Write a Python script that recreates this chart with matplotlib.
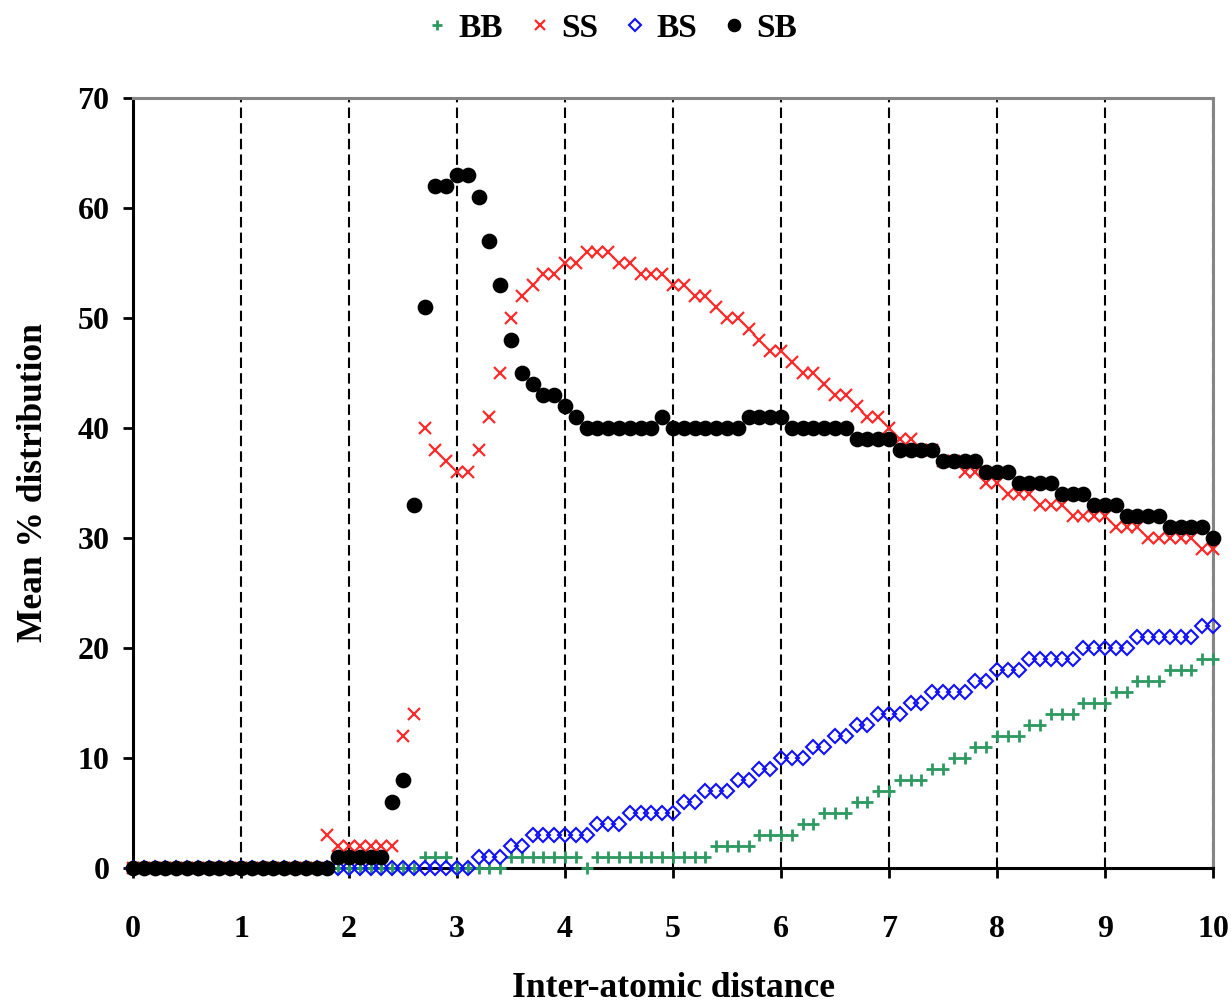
import numpy as np
import matplotlib.pyplot as plt

plt.rcParams['font.family'] = ['Liberation Serif', 'DejaVu Serif']
plt.rcParams['font.weight'] = 'bold'

# inter-atomic distance grid, 0.0 .. 10.0 in steps of 0.1
distance = np.linspace(0, 10, 101)

# mean % distribution per pair type
bb = [0, 0, 0, 0, 0, 0, 0, 0, 0, 0,
      0, 0, 0, 0, 0, 0, 0, 0, 0, 0,
      0, 0, 0, 0, 0, 0, 0, 1, 1, 1,
      0, 0, 0, 0, 0, 1, 1, 1, 1, 1,
      1, 1, 0, 1, 1, 1, 1, 1, 1, 1,
      1, 1, 1, 1, 2, 2, 2, 2, 3, 3,
      3, 3, 4, 4, 5, 5, 5, 6, 6, 7,
      7, 8, 8, 8, 9, 9, 10, 10, 11, 11,
      12, 12, 12, 13, 13, 14, 14, 14, 15, 15,
      15, 16, 16, 17, 17, 17, 18, 18, 18, 19,
      19]
ss = [0, 0, 0, 0, 0, 0, 0, 0, 0, 0,
      0, 0, 0, 0, 0, 0, 0, 0, 3, 2,
      2, 2, 2, 2, 2, 12, 14, 40, 38, 37,
      36, 36, 38, 41, 45, 50, 52, 53, 54, 54,
      55, 55, 56, 56, 56, 55, 55, 54, 54, 54,
      53, 53, 52, 52, 51, 50, 50, 49, 48, 47,
      47, 46, 45, 45, 44, 43, 43, 42, 41, 41,
      40, 39, 39, 38, 38, 37, 37, 36, 36, 35,
      35, 34, 34, 34, 33, 33, 33, 32, 32, 32,
      32, 31, 31, 31, 30, 30, 30, 30, 30, 29,
      29]
bs = [0, 0, 0, 0, 0, 0, 0, 0, 0, 0,
      0, 0, 0, 0, 0, 0, 0, 0, 0, 0,
      0, 0, 0, 0, 0, 0, 0, 0, 0, 0,
      0, 0, 1, 1, 1, 2, 2, 3, 3, 3,
      3, 3, 3, 4, 4, 4, 5, 5, 5, 5,
      5, 6, 6, 7, 7, 7, 8, 8, 9, 9,
      10, 10, 10, 11, 11, 12, 12, 13, 13, 14,
      14, 14, 15, 15, 16, 16, 16, 16, 17, 17,
      18, 18, 18, 19, 19, 19, 19, 19, 20, 20,
      20, 20, 20, 21, 21, 21, 21, 21, 21, 22,
      22]
sb = [0, 0, 0, 0, 0, 0, 0, 0, 0, 0,
      0, 0, 0, 0, 0, 0, 0, 0, 0, 1,
      1, 1, 1, 1, 6, 8, 33, 51, 62, 62,
      63, 63, 61, 57, 53, 48, 45, 44, 43, 43,
      42, 41, 40, 40, 40, 40, 40, 40, 40, 41,
      40, 40, 40, 40, 40, 40, 40, 41, 41, 41,
      41, 40, 40, 40, 40, 40, 40, 39, 39, 39,
      39, 38, 38, 38, 38, 37, 37, 37, 37, 36,
      36, 36, 35, 35, 35, 35, 34, 34, 34, 33,
      33, 33, 32, 32, 32, 32, 31, 31, 31, 31,
      30]

x_ticks = [0, 1, 2, 3, 4, 5, 6, 7, 8, 9, 10]
y_ticks = [0, 10, 20, 30, 40, 50, 60, 70]

fig = plt.figure(figsize=(12.31, 10.07), dpi=100)
ax = fig.add_axes([133 / 1231, 1 - 868 / 1007, 1080 / 1231, 770 / 1007])

ax.plot(distance, bb, '+', color='#2e9960', ms=9, mew=2, ls='none', label='BB', clip_on=False, zorder=3)
ax.plot(distance, ss, 'x', color='#ff2a2a', ms=8, mew=1.6, ls='none', label='SS', clip_on=False, zorder=4)
ax.plot(distance, bs, 'D', color='#1010ff', mfc='none', ms=6.8, mew=1.5, ls='none', label='BS', clip_on=False, zorder=5)
ax.plot(distance, sb, 'o', color='black', ms=10.3, ls='none', label='SB', clip_on=False, zorder=6)

ax.set_xlim(0, 10)
ax.set_ylim(0, 70)
ax.set_xticks(x_ticks)
ax.set_yticks(y_ticks)
ax.tick_params(direction='out', length=7, width=2, labelsize=23)
ax.tick_params(axis='x', pad=27)
ax.tick_params(axis='y', pad=10)

# dashed vertical gridlines only
ax.set_axisbelow(True)
ax.grid(axis='x', color='black', lw=1.5, ls=(0, (5, 2.5)))

for side in ['left', 'bottom']:
    ax.spines[side].set_linewidth(2.2)
    ax.spines[side].set_color('black')
for side in ['top', 'right']:
    ax.spines[side].set_linewidth(2.2)
    ax.spines[side].set_color('#858585')

ax.set_xlabel('Inter-atomic distance', fontsize=25.5, fontweight='bold', labelpad=20)
ax.set_ylabel('Mean % distribution', fontsize=25.5, fontweight='bold', labelpad=20)

fig.legend(loc='center', bbox_to_anchor=(0.497, 0.972), ncol=4, frameon=False,
           fontsize=24, handlelength=0.6, handletextpad=0.35, columnspacing=0.8, markerscale=0.85)

fig.savefig('out.png', dpi=100)
